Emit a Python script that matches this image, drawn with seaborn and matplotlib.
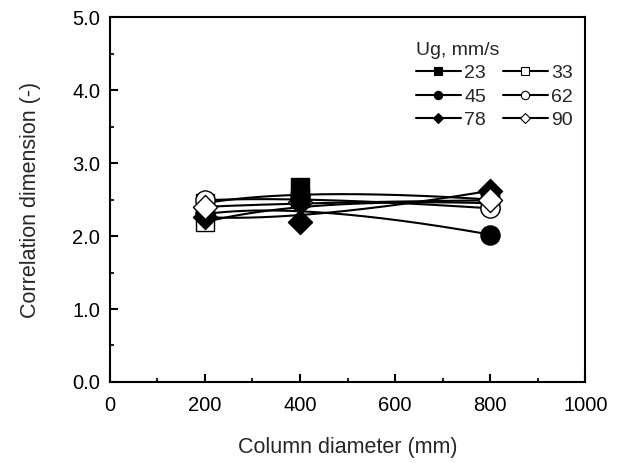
import numpy as np
import pandas as pd
import matplotlib
matplotlib.use("Agg")
import matplotlib.pyplot as plt
import seaborn as sns
from matplotlib.lines import Line2D

sns.set_style("ticks")
plt.rcParams['font.family'] = ['Liberation Sans', 'DejaVu Sans']

diameters = [200, 400, 800]
ug_labels = ["23", "33", "45", "62", "78", "90"]
v23 = [2.45, 2.67, 2.50]
v33 = [2.19, 2.52, 2.45]
v45 = [2.30, 2.48, 2.02]
v62 = [2.49, 2.55, 2.38]
v78 = [2.26, 2.19, 2.62]
v90 = [2.40, 2.46, 2.49]
series = [v23, v33, v45, v62, v78, v90]
markers = ["s", "s", "o", "o", "D", "D"]
filled = [True, False, True, False, True, False]


def bspline_curve(x, y, n=200):
    # quadratic B-spline (Bezier) using the data points as control points
    x = np.asarray(x, float); y = np.asarray(y, float)
    t = np.linspace(0, 1, n)[:, None]
    w = np.hstack([(1 - t) ** 2, 2 * t * (1 - t), t ** 2])
    return w @ x, w @ y

fig, ax = plt.subplots(figsize=(6.2, 4.63), dpi=100)
fig.subplots_adjust(left=0.177, right=0.944, top=0.963, bottom=0.175)

curves = []
for lab, vals in zip(ug_labels, series):
    xs, ys = bspline_curve(diameters, vals)
    curves.append(pd.DataFrame({"d": xs, "cd": ys, "ug": lab}))
curve_df = pd.concat(curves)
sns.lineplot(data=curve_df, x="d", y="cd", units="ug", estimator=None,
             sort=False, color="black", lw=1.5, ax=ax, legend=False)

# markers: at the middle diameter the filled symbols sit on top
for k, d in enumerate(diameters):
    order = range(6)
    if k == 1:
        order = [1, 3, 5, 0, 2, 4]
    for j in order:
        m = markers[j]
        df = pd.DataFrame({"d": [d], "cd": [series[j][k]]})
        sz = 150 if m == "s" else (190 if m == "o" else 150)
        sns.scatterplot(data=df, x="d", y="cd", marker=m, s=sz,
                        facecolor="black" if filled[j] else "white",
                        edgecolor="black", linewidth=1.0, ax=ax,
                        legend=False, zorder=3)

ax.set_xlim(0, 1000)
ax.set_ylim(0, 5)
ax.set_xticks(np.arange(0, 1001, 200))
ax.set_xticks(np.arange(100, 1000, 200), minor=True)
ax.set_yticks(np.arange(0, 5.01, 1.0))
ax.set_yticks(np.arange(0.5, 5, 1.0), minor=True)
ax.set_yticklabels([f"{v:.1f}" for v in np.arange(0, 5.01, 1.0)])
ax.tick_params(axis='both', which='major', direction='in', length=5.5, width=1.5,
               labelsize=14.5, color='black', labelcolor='black')
ax.tick_params(axis='x', which='major', pad=10)
ax.tick_params(axis='y', which='major', pad=7)
ax.tick_params(axis='both', which='minor', direction='in', length=3, width=1.5)
for sp in ax.spines.values():
    sp.set_linewidth(1.5)
    sp.set_color("black")
ax.set_xlabel("Column diameter (mm)", fontsize=15.5, labelpad=16)
ax.set_ylabel("Correlation dimension (-)", fontsize=15.5, labelpad=22)

handles = []
for lab, m, f in zip(ug_labels, markers, filled):
    handles.append(Line2D([0], [0], color="black", lw=1.5, marker=m,
                          markersize=6 if m != "D" else 5.5,
                          markerfacecolor="black" if f else "white",
                          markeredgecolor="black", markeredgewidth=0.8, label=lab))
order = [0, 2, 4, 1, 3, 5]
leg = ax.legend([handles[i] for i in order], [ug_labels[i] for i in order],
                ncol=2, title="Ug, mm/s", loc="upper left",
                bbox_to_anchor=(0.615, 0.97), frameon=False, fontsize=14,
                title_fontsize=14, handlelength=2.3, handletextpad=0.2,
                columnspacing=0.85, labelspacing=0.3, borderpad=0.2)
leg._legend_box.align = "left"

fig.savefig("out.png", dpi=100)
